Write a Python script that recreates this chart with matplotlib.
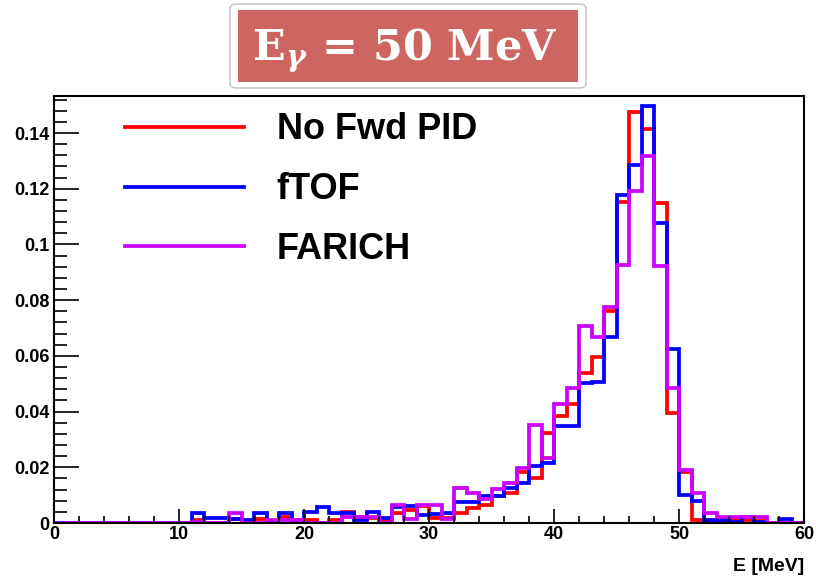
import matplotlib
matplotlib.use('Agg')
import matplotlib.pyplot as plt
import numpy as np
from matplotlib.patches import FancyBboxPatch, Rectangle
from matplotlib.ticker import MultipleLocator

plt.rcParams['font.family'] = ['Liberation Sans', 'DejaVu Sans']
plt.rcParams['font.weight'] = 'bold'

# histogram binning: 1 MeV bins from 0 to 60
edges = np.arange(0, 61, 1)

# normalised counts per bin
no_fwd_pid = [0, 0, 0, 0, 0, 0, 0, 0, 0, 0,
              0, 0.0011, 0, 0, 0.0014, 0, 0.0014, 0, 0.002, 0.0011,
              0.001, 0, 0.001, 0.004, 0.002, 0.0019, 0.001, 0.0035, 0.0047, 0.006,
              0.0018, 0.0017, 0.0035, 0.0053, 0.0065, 0.0097, 0.0107, 0.0184, 0.016, 0.0322,
              0.0384, 0.0427, 0.054, 0.0595, 0.0761, 0.1151, 0.1477, 0.1413, 0.1148, 0.0394,
              0.0183, 0.0012, 0.001, 0.001, 0.001, 0.001, 0.0007, 0, 0, 0]
ftof = [0, 0, 0, 0, 0, 0, 0, 0, 0, 0,
        0, 0.0035, 0.0017, 0.0017, 0.0014, 0.0011, 0.0035, 0.0005, 0.0035, 0.0003,
        0.004, 0.0059, 0.0035, 0.0035, 0.001, 0.0038, 0.0017, 0.0056, 0.0062, 0.003,
        0.0032, 0.0035, 0.0077, 0.0077, 0.0097, 0.0097, 0.0125, 0.0143, 0.0206, 0.0214,
        0.0349, 0.0349, 0.0502, 0.0507, 0.0669, 0.1177, 0.1285, 0.1497, 0.1076, 0.0625,
        0.010, 0.008, 0.001, 0.001, 0.0005, 0.002, 0.0003, 0, 0.0014, 0]
farich = [0, 0, 0, 0, 0, 0, 0, 0, 0, 0,
          0, 0.0005, 0, 0, 0.0035, 0, 0, 0.0011, 0.001, 0.001,
          0, 0, 0, 0.0023, 0.0023, 0.0023, 0, 0.0065, 0.0015, 0.0065,
          0.0065, 0.0014, 0.0127, 0.0107, 0.0085, 0.0122, 0.0143, 0.0196, 0.0352, 0.0232,
          0.0427, 0.0483, 0.0708, 0.0669, 0.0774, 0.0926, 0.1193, 0.1317, 0.0924, 0.0483,
          0.019, 0.0107, 0.0035, 0.002, 0.002, 0.002, 0.002, 0, 0, 0]

labels = ['No Fwd PID', 'fTOF', 'FARICH']
colors = ['#ff0000', '#0000ff', '#cc00ff']
ytick_vals = [0, 0.02, 0.04, 0.06, 0.08, 0.1, 0.12, 0.14]
ytick_labels = ['0', '0.02', '0.04', '0.06', '0.08', '0.1', '0.12', '0.14']

fig = plt.figure(figsize=(8.16, 5.8), dpi=100)
ax = fig.add_axes([54/816, 1-523/580, 750/816, 427/580])

for vals, lab, col in zip([no_fwd_pid, ftof, farich], labels, colors):
    ax.stairs(vals, edges, color=col, lw=2.7, label=lab, baseline=0)

ax.set_xlim(0, 60)
ax.set_ylim(0, 0.1533)

ax.xaxis.set_major_locator(MultipleLocator(10))
ax.xaxis.set_minor_locator(MultipleLocator(2))
ax.yaxis.set_minor_locator(MultipleLocator(0.004))
ax.set_yticks(ytick_vals)
ax.set_yticklabels(ytick_labels)
ax.tick_params(axis='x', which='major', direction='in', length=10, width=1.2, labelsize=13, pad=2)
ax.tick_params(axis='x', which='minor', direction='in', length=5, width=1.2)
ax.tick_params(axis='y', which='major', direction='in', length=18, width=1.2, labelsize=13, pad=3)
ax.tick_params(axis='y', which='minor', direction='in', length=9, width=1.2)
for s in ax.spines.values():
    s.set_linewidth(1.5)

ax.set_xlabel('E [MeV]', fontsize=14, fontweight='bold')
ax.xaxis.set_label_coords(1.0, -0.082)
ax.xaxis.label.set_horizontalalignment('right')

leg = ax.legend(loc='upper left', bbox_to_anchor=(0.0947, 0.962), frameon=False,
                fontsize=26, handlelength=3.3, handletextpad=0.9, labelspacing=0.69,
                borderpad=0, borderaxespad=0)
for l in leg.get_lines():
    l.set_linewidth(2.7)

# title badge
fig.patches.append(FancyBboxPatch((230/816, 1-88/580), 356/816, 84/580,
                                  boxstyle='round,pad=0,rounding_size=0.008',
                                  transform=fig.transFigure, facecolor='white',
                                  edgecolor='#c8c8c8', lw=1.2))
fig.patches.append(Rectangle((238/816, 1-82/580), 340/816, 72/580,
                             transform=fig.transFigure, facecolor='#cd6660', edgecolor='none'))
fig.text(405/816, 1-51/580, r'E$_{\gamma}$ = 50 MeV', color='white', fontsize=31,
         fontweight='bold', family='DejaVu Serif', ha='center', va='center',
         math_fontfamily='dejavuserif')

fig.savefig('out.png', dpi=100)
